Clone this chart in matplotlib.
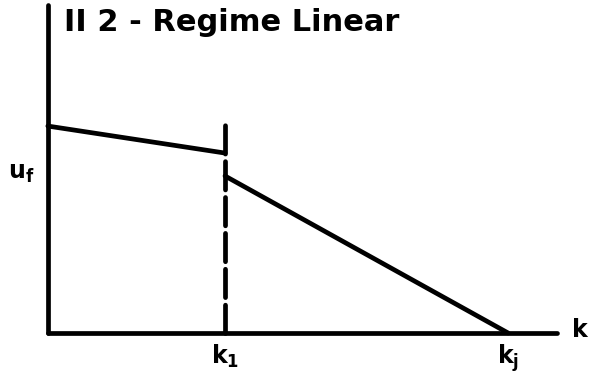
import matplotlib.pyplot as plt

# breakpoints along k (k_j = 1) and speeds (u_f = 1)
k_pts = [0.0, 0.385, 1.0]
k_end = 1.107
u_upper = [1.318, 1.146]      # free branch, k < k1
u_lower = [1.0, 0.0]          # congested branch, k1 < k < kj
u_top = 2.09

fig = plt.figure(figsize=(5.95, 3.81), dpi=100)
ax = fig.add_axes([0, 0, 1, 1])
ax.set_xlim(-0.104, 1.189)
ax.set_ylim(-0.306, 2.121)
ax.axis('off')

lw = 3.4
# axes
ax.plot([0, 0], [0, u_top], color='black', lw=lw, solid_capstyle='round')
ax.plot([0, k_end], [0, 0], color='black', lw=lw, solid_capstyle='round')

# the two branches of the linear regime
ax.plot(k_pts[:2], u_upper, color='black', lw=lw, solid_capstyle='round')
ax.plot(k_pts[1:], u_lower, color='black', lw=lw, solid_capstyle='round')

# dashed line at k1
ax.plot([k_pts[1], k_pts[1]], [0, u_upper[0] + 0.01], color='black', lw=lw,
        dashes=(6, 1.6), dash_capstyle='round')

fs = 17
ax.text(0.035, u_top - 0.02, 'II 2 - Regime Linear', fontsize=22, fontweight='bold',
        ha='left', va='top', family='DejaVu Sans')
ax.text(-0.03, 1.02, r'$\mathbf{u_f}$', fontsize=fs, ha='right', va='center')
ax.text(k_pts[1], -0.06, r'$\mathbf{k_1}$', fontsize=fs, ha='center', va='top')
ax.text(k_pts[2], -0.06, r'$\mathbf{k_j}$', fontsize=fs, ha='center', va='top')
ax.text(k_end + 0.03, 0.02, r'$\mathbf{k}$', fontsize=fs, ha='left', va='center')

fig.savefig('out.png', dpi=100)
